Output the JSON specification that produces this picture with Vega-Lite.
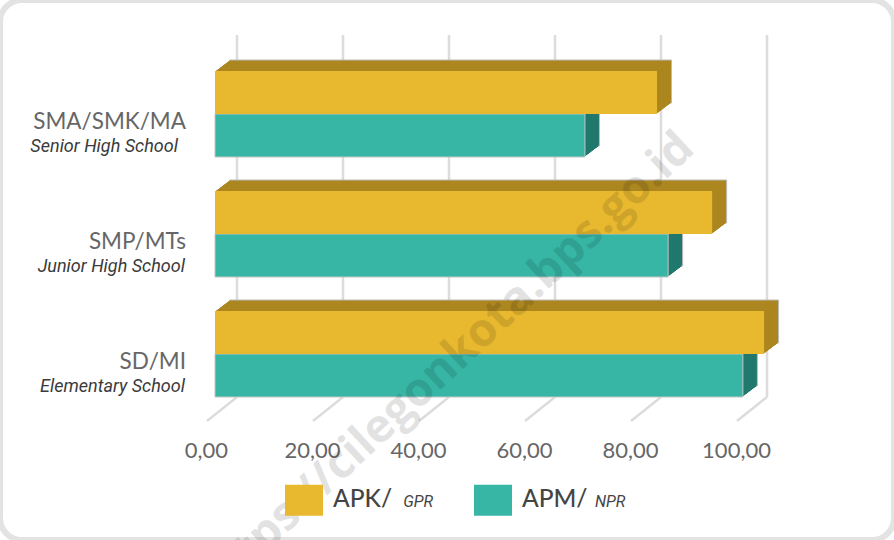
{"$schema":"https://vega.github.io/schema/vega-lite/v6.json","width":894,"height":540,"padding":0,"autosize":"none","background":"white","view":{"stroke":"#e3e3e3","strokeWidth":6,"cornerRadius":22,"fill":"white"},
"resolve":{"axis":{"x":"independent"}},
"datasets":{
"apk":[{"level":"SMA","value":83.4,"series":"APK"},{"level":"SMP","value":93.8,"series":"APK"},{"level":"SD","value":103.6,"series":"APK"}],
"apm":[{"level":"SMA","value":69.8,"series":"APM"},{"level":"SMP","value":85.5,"series":"APM"},{"level":"SD","value":99.6,"series":"APM"}],
"ticks":[{"v":0},{"v":20},{"v":40},{"v":60},{"v":80},{"v":100}],
"cats":[{"level":"SMA","id":"SMA/SMK/MA","en":"Senior High School"},{"level":"SMP","id":"SMP/MTs","en":"Junior High School"},{"level":"SD","id":"SD/MI","en":"Elementary School"}]},
"layer":[
{"data":{"name":"ticks"},"mark":{"type":"rule","color":"#dcdcdc","strokeWidth":2.5,"xOffset":22,"x2Offset":22,"yOffset":-79,"y2Offset":43},
"encoding":{"x":{"field":"v","type":"quantitative","title":null,"scale":{"domain":[-40.566,128.113],"nice":false,"zero":false,"range":[0,894]},"axis":{"values":[0,20,40,60,80,100],"orient":"bottom","offset":-100,"grid":false,"domain":false,"ticks":false,"labelPadding":0,"labelFont":"Lato","labelFontSize":22,"labelColor":"#666666","labelOffset":-9,"labelFlush":false,"labelOverlap":false,"labelBaseline":"top","labelExpr":"replace(format(datum.value,'.2f'),'.',',')"}},
"y":{"datum":"SMA","type":"nominal","title":null,"axis":null,"scale":{"domain":["SMA","SMP","SD","legend"],"range":[54,534],"paddingInner":0,"paddingOuter":0}},"y2":{"datum":"SD"}}},
{"data":{"name":"ticks"},"mark":{"type":"rule","color":"#dcdcdc","strokeWidth":2.5,"xOffset":22,"x2Offset":-8,"yOffset":43,"y2Offset":67},
"encoding":{"x":{"field":"v","type":"quantitative","axis":null},"x2":{"field":"v"},"y":{"datum":"SD","type":"nominal","axis":null},"y2":{"datum":"SD"}}},
{"encoding":{"x":{"field":"value","type":"quantitative","stack":null,"axis":null},"x2":{"datum":0},"y":{"field":"level","type":"nominal","axis":null}},
"layer":[
{"data":{"name":"apm"},"mark":{"type":"bar","height":43,"color":"#21786E","stroke":"#bbbbbb","strokeWidth":1,"xOffset":14.5,"x2Offset":14.5,"yOffset":10.5}},
{"data":{"name":"apm"},"mark":{"type":"bar","height":43,"color":"#21786E","xOffset":13.2,"x2Offset":13.2,"yOffset":11.5}},
{"data":{"name":"apm"},"mark":{"type":"bar","height":43,"color":"#21786E","xOffset":11.9,"x2Offset":11.9,"yOffset":12.5}},
{"data":{"name":"apm"},"mark":{"type":"bar","height":43,"color":"#21786E","xOffset":10.5,"x2Offset":10.5,"yOffset":13.5}},
{"data":{"name":"apm"},"mark":{"type":"bar","height":43,"color":"#21786E","xOffset":9.2,"x2Offset":9.2,"yOffset":14.5}},
{"data":{"name":"apm"},"mark":{"type":"bar","height":43,"color":"#21786E","xOffset":7.9,"x2Offset":7.9,"yOffset":15.5}},
{"data":{"name":"apm"},"mark":{"type":"bar","height":43,"color":"#21786E","xOffset":6.6,"x2Offset":6.6,"yOffset":16.5}},
{"data":{"name":"apm"},"mark":{"type":"bar","height":43,"color":"#21786E","xOffset":5.3,"x2Offset":5.3,"yOffset":17.5}},
{"data":{"name":"apm"},"mark":{"type":"bar","height":43,"color":"#21786E","xOffset":4,"x2Offset":4,"yOffset":18.5}},
{"data":{"name":"apm"},"mark":{"type":"bar","height":43,"color":"#21786E","xOffset":2.6,"x2Offset":2.6,"yOffset":19.5}},
{"data":{"name":"apm"},"mark":{"type":"bar","height":43,"color":"#21786E","xOffset":1.3,"x2Offset":1.3,"yOffset":20.5}},
{"data":{"name":"apk"},"mark":{"type":"bar","height":43,"color":"#AC861F","stroke":"#bbbbbb","strokeWidth":1,"xOffset":14.5,"x2Offset":14.5,"yOffset":-32.5}},
{"data":{"name":"apk"},"mark":{"type":"bar","height":43,"color":"#AC861F","xOffset":13.2,"x2Offset":13.2,"yOffset":-31.5}},
{"data":{"name":"apk"},"mark":{"type":"bar","height":43,"color":"#AC861F","xOffset":11.9,"x2Offset":11.9,"yOffset":-30.5}},
{"data":{"name":"apk"},"mark":{"type":"bar","height":43,"color":"#AC861F","xOffset":10.5,"x2Offset":10.5,"yOffset":-29.5}},
{"data":{"name":"apk"},"mark":{"type":"bar","height":43,"color":"#AC861F","xOffset":9.2,"x2Offset":9.2,"yOffset":-28.5}},
{"data":{"name":"apk"},"mark":{"type":"bar","height":43,"color":"#AC861F","xOffset":7.9,"x2Offset":7.9,"yOffset":-27.5}},
{"data":{"name":"apk"},"mark":{"type":"bar","height":43,"color":"#AC861F","xOffset":6.6,"x2Offset":6.6,"yOffset":-26.5}},
{"data":{"name":"apk"},"mark":{"type":"bar","height":43,"color":"#AC861F","xOffset":5.3,"x2Offset":5.3,"yOffset":-25.5}},
{"data":{"name":"apk"},"mark":{"type":"bar","height":43,"color":"#AC861F","xOffset":4,"x2Offset":4,"yOffset":-24.5}},
{"data":{"name":"apk"},"mark":{"type":"bar","height":43,"color":"#AC861F","xOffset":2.6,"x2Offset":2.6,"yOffset":-23.5}},
{"data":{"name":"apk"},"mark":{"type":"bar","height":43,"color":"#AC861F","xOffset":1.3,"x2Offset":1.3,"yOffset":-22.5}},
{"data":{"name":"apm"},"mark":{"type":"bar","height":43,"yOffset":21.5,"stroke":"#c4c4c4","strokeWidth":1},"encoding":{"color":{"field":"series","type":"nominal","title":null,"scale":{"domain":["APK","APM"],"range":["#E8B82F","#37B5A5"]},"legend":{"orient":"none","legendX":285,"legendY":481,"direction":"horizontal","columns":2,"columnPadding":81,"symbolType":"M-1,-0.82H1V0.82H-1Z","symbolSize":1444,"symbolStrokeWidth":0,"symbolOffset":0,"labelFont":"Lato","labelFontSize":24.5,"labelFontWeight":500,"labelColor":"#444444","labelOffset":10,"labelExpr":"datum.label+'/'"}}}},
{"data":{"name":"apk"},"mark":{"type":"bar","height":43,"yOffset":-21.5,"color":"#E8B82F"}}
]},
{"data":{"name":"cats"},"mark":{"type":"text","font":"Lato","fontSize":22.5,"color":"#666666","align":"right","baseline":"middle","dx":-29,"dy":8},"encoding":{"x":{"datum":0,"type":"quantitative","axis":null},"y":{"field":"level","type":"nominal","axis":null},"text":{"field":"id"}}},
{"data":{"name":"cats"},"transform":[{"filter":"datum.level!='SMA'"}],"mark":{"type":"text","font":"Roboto","fontStyle":"italic","fontSize":18,"color":"#3a3a3a","align":"right","baseline":"middle","dx":-30,"dy":33},"encoding":{"x":{"datum":0,"type":"quantitative","axis":null},"y":{"field":"level","type":"nominal","axis":null},"text":{"field":"en"}}},
{"data":{"name":"cats"},"transform":[{"filter":"datum.level=='SMA'"}],"mark":{"type":"text","font":"Roboto","fontStyle":"italic","fontSize":18,"color":"#3a3a3a","align":"right","baseline":"middle","dx":-37,"dy":33},"encoding":{"x":{"datum":0,"type":"quantitative","axis":null},"y":{"field":"level","type":"nominal","axis":null},"text":{"field":"en"}}},
{"data":{"values":[{"code":"GPR"}]},"mark":{"type":"text","font":"Roboto","fontStyle":"italic","fontSize":16,"color":"#444444","align":"left","baseline":"middle","dy":28},"encoding":{"x":{"datum":35.5,"type":"quantitative","axis":null},"y":{"datum":"legend","type":"nominal","axis":null},"text":{"field":"code"}}},
{"data":{"values":[{"code":"NPR"}]},"mark":{"type":"text","font":"Roboto","fontStyle":"italic","fontSize":16,"color":"#444444","align":"left","baseline":"middle","dy":28},"encoding":{"x":{"datum":71.7,"type":"quantitative","axis":null},"y":{"datum":"legend","type":"nominal","axis":null},"text":{"field":"code"}}},
{"data":{"values":[{"url":"https://cilegonkota.bps.go.id"}]},"mark":{"type":"text","font":"Open Sans","fontWeight":"bold","fontSize":46,"color":"#000000","opacity":0.11,"angle":-43,"align":"right","baseline":"middle","yOffset":27},"encoding":{"x":{"datum":89,"type":"quantitative","axis":null},"y":{"datum":"SMA","type":"nominal","axis":null},"text":{"field":"url"}}}
]}
